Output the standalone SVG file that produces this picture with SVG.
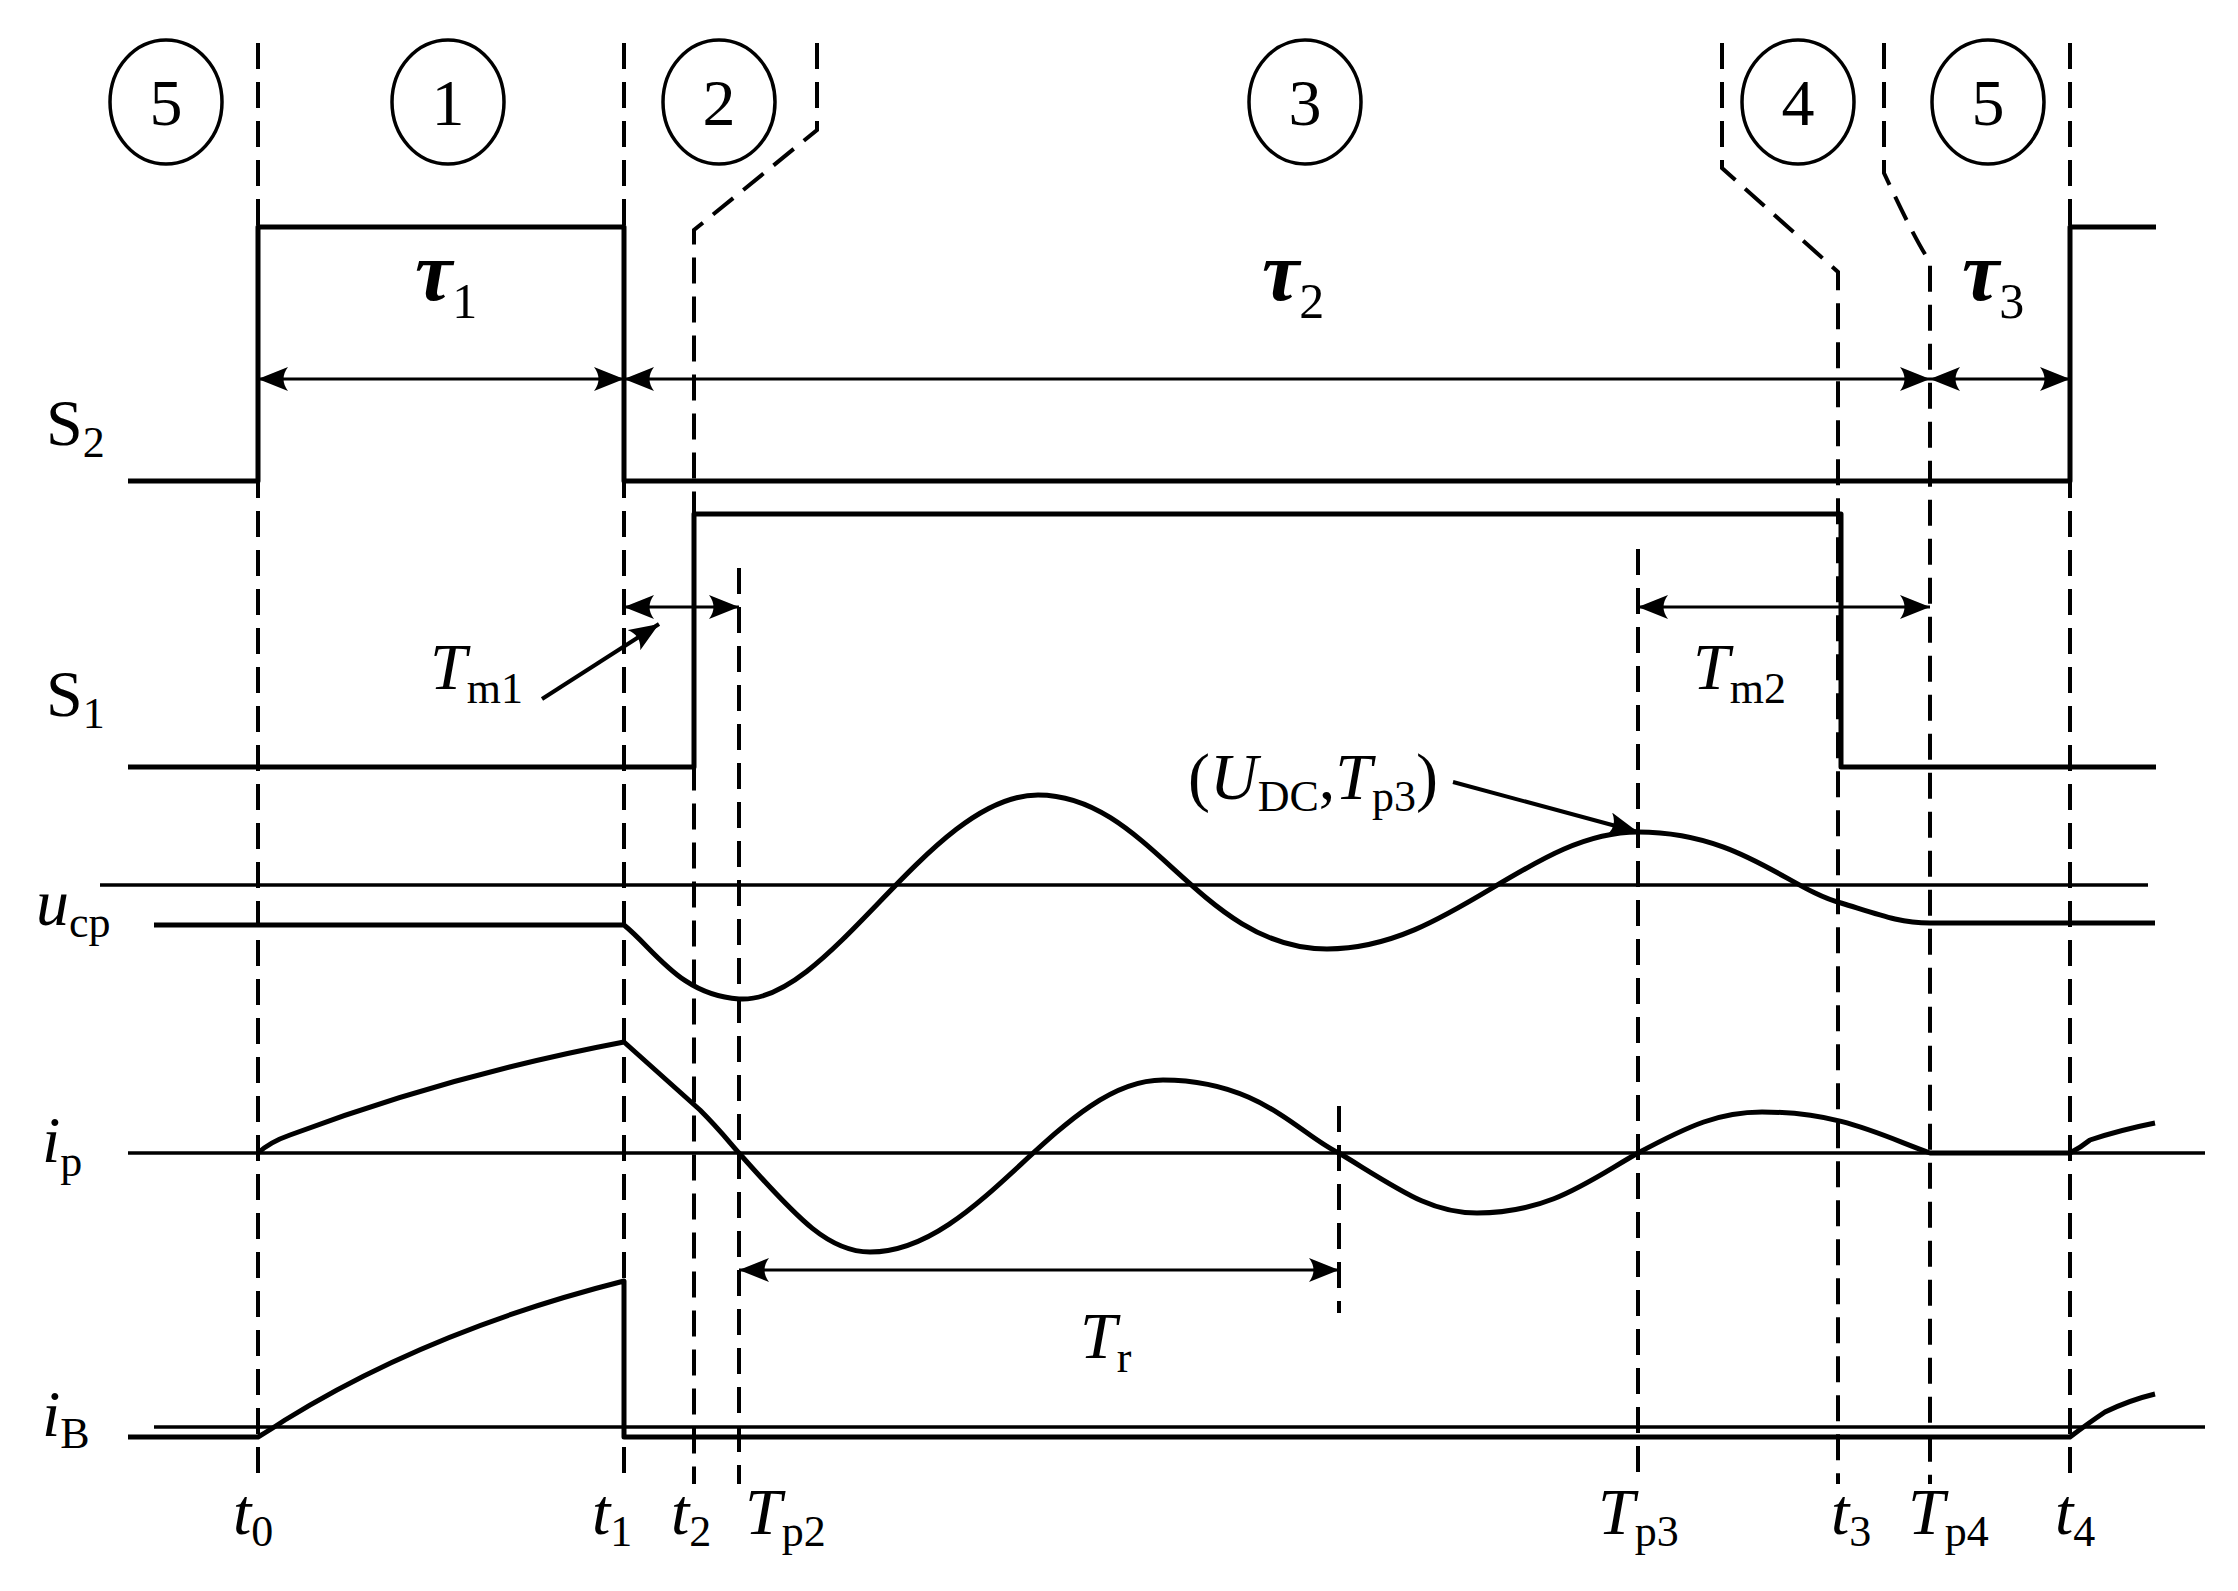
<svg xmlns="http://www.w3.org/2000/svg" width="2238" height="1591" viewBox="0 0 2238 1591">
<style>
.d{fill:none;stroke:#000;stroke-width:4;stroke-dasharray:26 13}
.w{fill:none;stroke:#000;stroke-width:5;stroke-linejoin:round}
.t{fill:none;stroke:#000;stroke-width:3.5}
.a{fill:none;stroke:#000;stroke-width:3;marker-start:url(#ah);marker-end:url(#ah)}
.e{fill:none;stroke:#000;stroke-width:4;marker-end:url(#ah)}
text{font-family:"Liberation Serif","Times New Roman",serif;fill:#000}
.m{font-size:66px}.i{font-style:italic}.s{font-size:44px;font-style:normal}
.tau{font-size:84px;font-style:italic;font-weight:bold}.ts{font-size:50px;font-style:normal;font-weight:normal}
</style>
<defs>
<marker id="ah" viewBox="0 0 30 24" refX="30" refY="12" markerWidth="30" markerHeight="24" markerUnits="userSpaceOnUse" orient="auto-start-reverse">
<path d="M0,0 L30,12 L0,24 Q9,12 0,0Z" fill="#000"/>
</marker>
</defs>
<rect width="2238" height="1591" fill="#fff"/>
<g id="phases" class="m" text-anchor="middle">
<g id="p5a"><ellipse cx="166" cy="102" rx="56" ry="62" class="t"/><text x="166" y="125">5</text></g>
<g id="p1"><ellipse cx="448" cy="102" rx="56" ry="62" class="t"/><text x="448" y="125">1</text></g>
<g id="p2"><ellipse cx="719" cy="102" rx="56" ry="62" class="t"/><text x="719" y="125">2</text></g>
<g id="p3"><ellipse cx="1305" cy="102" rx="56" ry="62" class="t"/><text x="1305" y="125">3</text></g>
<g id="p4"><ellipse cx="1798" cy="102" rx="56" ry="62" class="t"/><text x="1798" y="125">4</text></g>
<g id="p5b"><ellipse cx="1988" cy="102" rx="56" ry="62" class="t"/><text x="1988" y="125">5</text></g>
</g>
<g id="dashed">
<path class="d" d="M258,43V1484"/>
<path class="d" d="M624,43V1484"/>
<path class="d" d="M817,43V130L694,230V1484"/>
<path class="d" d="M739,568V1484"/>
<path class="d" d="M1339,1106V1313"/>
<path class="d" d="M1638,549V1484"/>
<path class="d" d="M1722,43V168L1838,272V1484"/>
<path class="d" d="M1884,43V173Q1915,240 1930,262V1484"/>
<path class="d" d="M2070,43V1484"/>
</g>
<g id="waves">
<path class="w" d="M128,481H258V227H624V481H2070V227H2156"/>
<path class="w" d="M128,767H694V514H1841V767H2156"/>
<path class="t" d="M100,885H2148"/>
<path class="w" d="M154,925H624 C655,950 680,995 739,999 C830,1005 930,795 1038,795 C1150,795 1200,949 1327,949 C1450,949 1530,832 1638,832 C1740,832 1790,890 1841,903 C1880,915 1900,923 1930,923 H2155"/>
<path class="t" d="M128,1153H2205"/>
<path class="w" d="M258,1153 Q270,1142 290,1135 Q450,1075 624,1042 L700,1110 C720,1130 730,1143 739,1153 C800,1222 830,1252 870,1252 C980,1252 1060,1080 1163,1080 C1260,1080 1300,1135 1339,1153 C1400,1190 1430,1213 1477,1213 C1550,1213 1590,1180 1638,1153 C1690,1125 1720,1112 1762,1112 C1840,1112 1880,1135 1930,1153 H2070 Q2080,1148 2090,1140 Q2120,1130 2155,1123"/>
<path class="t" d="M154,1427H2205"/>
<path class="w" d="M128,1437H258 Q270,1430 285,1420 Q430,1330 624,1281 V1437 H2070 Q2090,1422 2105,1412 Q2130,1400 2155,1394"/>
</g>
<g id="connectors">
<path class="a" d="M258,379H624"/>
<path class="a" d="M624,379H1930"/>
<path class="a" d="M1930,379H2070"/>
<path class="a" d="M624,607H739"/>
<path class="a" d="M1638,607H1930"/>
<path class="a" d="M739,1270H1339"/>
<path class="e" d="M542,699L659,624"/>
<path class="e" d="M1453,782L1638,832"/>
</g>
<g id="labels">
<text class="m" x="46" y="445">S<tspan class="s" dy="12">2</tspan></text>
<text class="m" x="46" y="716">S<tspan class="s" dy="12">1</tspan></text>
<text class="m i" x="36" y="925">u<tspan class="s" dy="12">cp</tspan></text>
<text class="m i" x="42" y="1162">i<tspan class="s" dy="14">p</tspan></text>
<text class="m i" x="42" y="1436">i<tspan class="s" dy="12">B</tspan></text>
<text class="tau" x="415" y="300">τ<tspan class="ts" dy="18">1</tspan></text>
<text class="tau" x="1262" y="300">τ<tspan class="ts" dy="18">2</tspan></text>
<text class="tau" x="1962" y="300">τ<tspan class="ts" dy="18">3</tspan></text>
<text class="m i" x="430" y="689">T<tspan class="s" dy="14">m1</tspan></text>
<text class="m i" x="1693" y="689">T<tspan class="s" dy="14">m2</tspan></text>
<text class="m" x="1188" y="799">(<tspan class="i">U</tspan><tspan class="s" dy="12">DC</tspan><tspan dy="-12">,</tspan><tspan class="i">T</tspan><tspan class="s" dy="12">p3</tspan><tspan dy="-12">)</tspan></text>
<text class="m i" x="1080" y="1358">T<tspan class="s" dy="14">r</tspan></text>
<text class="m i" x="233" y="1534">t<tspan class="s" dy="12">0</tspan></text>
<text class="m i" x="592" y="1534">t<tspan class="s" dy="12">1</tspan></text>
<text class="m i" x="671" y="1534">t<tspan class="s" dy="12">2</tspan></text>
<text class="m i" x="745" y="1534">T<tspan class="s" dy="12">p2</tspan></text>
<text class="m i" x="1598" y="1534">T<tspan class="s" dy="12">p3</tspan></text>
<text class="m i" x="1831" y="1534">t<tspan class="s" dy="12">3</tspan></text>
<text class="m i" x="1908" y="1534">T<tspan class="s" dy="12">p4</tspan></text>
<text class="m i" x="2055" y="1534">t<tspan class="s" dy="12">4</tspan></text>
</g>
</svg>
